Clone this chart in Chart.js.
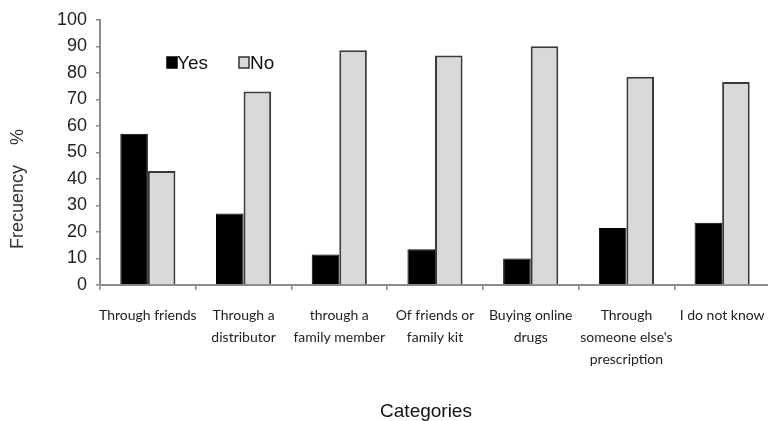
<!DOCTYPE html>
<html>
<head>
<meta charset="utf-8">
<script src="https://cdn.jsdelivr.net/npm/chart.js@4/dist/chart.umd.min.js"></script>
<style>
html,body{margin:0;padding:0;background:#fff;overflow:hidden;}
#wrap{width:768px;height:421px;position:relative;overflow:hidden;}
#c{position:absolute;left:0;top:0;}
</style>
</head>
<body>
<div id="wrap"><canvas id="c" width="770" height="421"></canvas></div>
<script>
const categories = [
  ["Through friends"],
  ["Through a", "distributor"],
  ["through a", "family member"],
  ["Of friends or", "family kit"],
  ["Buying online", "drugs"],
  ["Through", "someone else's", "prescription"],
  ["I do not know"]
];
const seriesNames = ["Yes", "No"];
const yesValues = [57, 27, 11.5, 13.5, 10, 21.5, 23.5];
const noValues = [43, 73, 88.5, 86.5, 90, 78.5, 76.5];
const yTicks = [0, 10, 20, 30, 40, 50, 60, 70, 80, 90, 100];
const yTitle = "Frecuency    %";
const xTitle = "Categories";

const colors = { Yes: "#000000", No: "#d9d9d9" };
const borders = { Yes: "#000000", No: "#3a3a3a" };

const overlay = {
  id: 'overlay',
  afterDraw(chart) {
    const ctx = chart.ctx;
    ctx.save();
    // legend
    const legendPos = [{ sx: 167, tx: 177 }, { sx: 239, tx: 250 }];
    chart.data.datasets.forEach((ds, i) => {
      const p = legendPos[i];
      ctx.fillStyle = ds.backgroundColor;
      ctx.fillRect(p.sx, 57, 10, 11);
      ctx.lineWidth = 1.5;
      ctx.strokeStyle = i === 0 ? '#000' : '#333';
      ctx.strokeRect(p.sx, 57, 10, 11);
      ctx.fillStyle = '#111';
      ctx.font = '19px "Liberation Sans", Arial, sans-serif';
      ctx.textAlign = 'left';
      ctx.textBaseline = 'middle';
      ctx.fillText(ds.label, p.tx, 64);
    });
    // y title
    ctx.save();
    ctx.translate(18, 189);
    ctx.rotate(-Math.PI / 2);
    ctx.font = '18px "Liberation Sans", Arial, sans-serif';
    ctx.fillStyle = '#333';
    ctx.textAlign = 'center';
    ctx.textBaseline = 'middle';
    ctx.fillText(yTitle, 0, 0);
    ctx.restore();
    // x title
    ctx.font = '19px "Liberation Sans", Arial, sans-serif';
    ctx.fillStyle = '#111';
    ctx.textAlign = 'center';
    ctx.textBaseline = 'middle';
    ctx.fillText(xTitle, 426, 412);
    ctx.restore();
  }
};

new Chart(document.getElementById('c'), {
  type: 'bar',
  data: {
    labels: categories,
    datasets: [
      { label: seriesNames[0], data: yesValues, backgroundColor: colors.Yes, borderColor: borders.Yes, borderWidth: 1 },
      { label: seriesNames[1], data: noValues, backgroundColor: colors.No, borderColor: borders.No, borderWidth: 2 }
    ]
  },
  options: {
    responsive: false,
    animation: false,
    devicePixelRatio: 1,
    layout: { padding: { top: 17.5, right: 0, bottom: 0, left: 0 } },
    datasets: { bar: { categoryPercentage: 0.576, barPercentage: 1.0 } },
    plugins: { legend: { display: false }, tooltip: { enabled: false }, title: { display: false } },
    scales: {
      x: {
        afterFit(scale) { scale.height = 136; scale.paddingLeft = 0; scale.paddingRight = 0; },
        border: { display: true, color: '#8c8c8c', width: 2 },
        grid: { display: true, drawOnChartArea: false, offset: true, tickLength: 5, color: '#8c8c8c', lineWidth: 1.5 },
        ticks: {
          color: '#222',
          padding: 15,
          maxRotation: 0,
          autoSkip: false,
          font: { family: 'Lato, "Liberation Sans", Arial, sans-serif', size: 14, lineHeight: 1.55 }
        }
      },
      y: {
        min: 0,
        max: 100,
        afterFit(scale) { scale.width = 100; },
        afterBuildTicks(scale) { scale.ticks = yTicks.map(v => ({ value: v })); },
        border: { display: true, color: '#8c8c8c', width: 2 },
        grid: { display: true, drawOnChartArea: false, tickLength: 4, color: '#8c8c8c', lineWidth: 1.5 },
        ticks: {
          color: '#222',
          padding: 9,
          font: { family: '"Liberation Sans", Arial, sans-serif', size: 18 }
        }
      }
    }
  },
  plugins: [overlay]
});
</script>
</body>
</html>
